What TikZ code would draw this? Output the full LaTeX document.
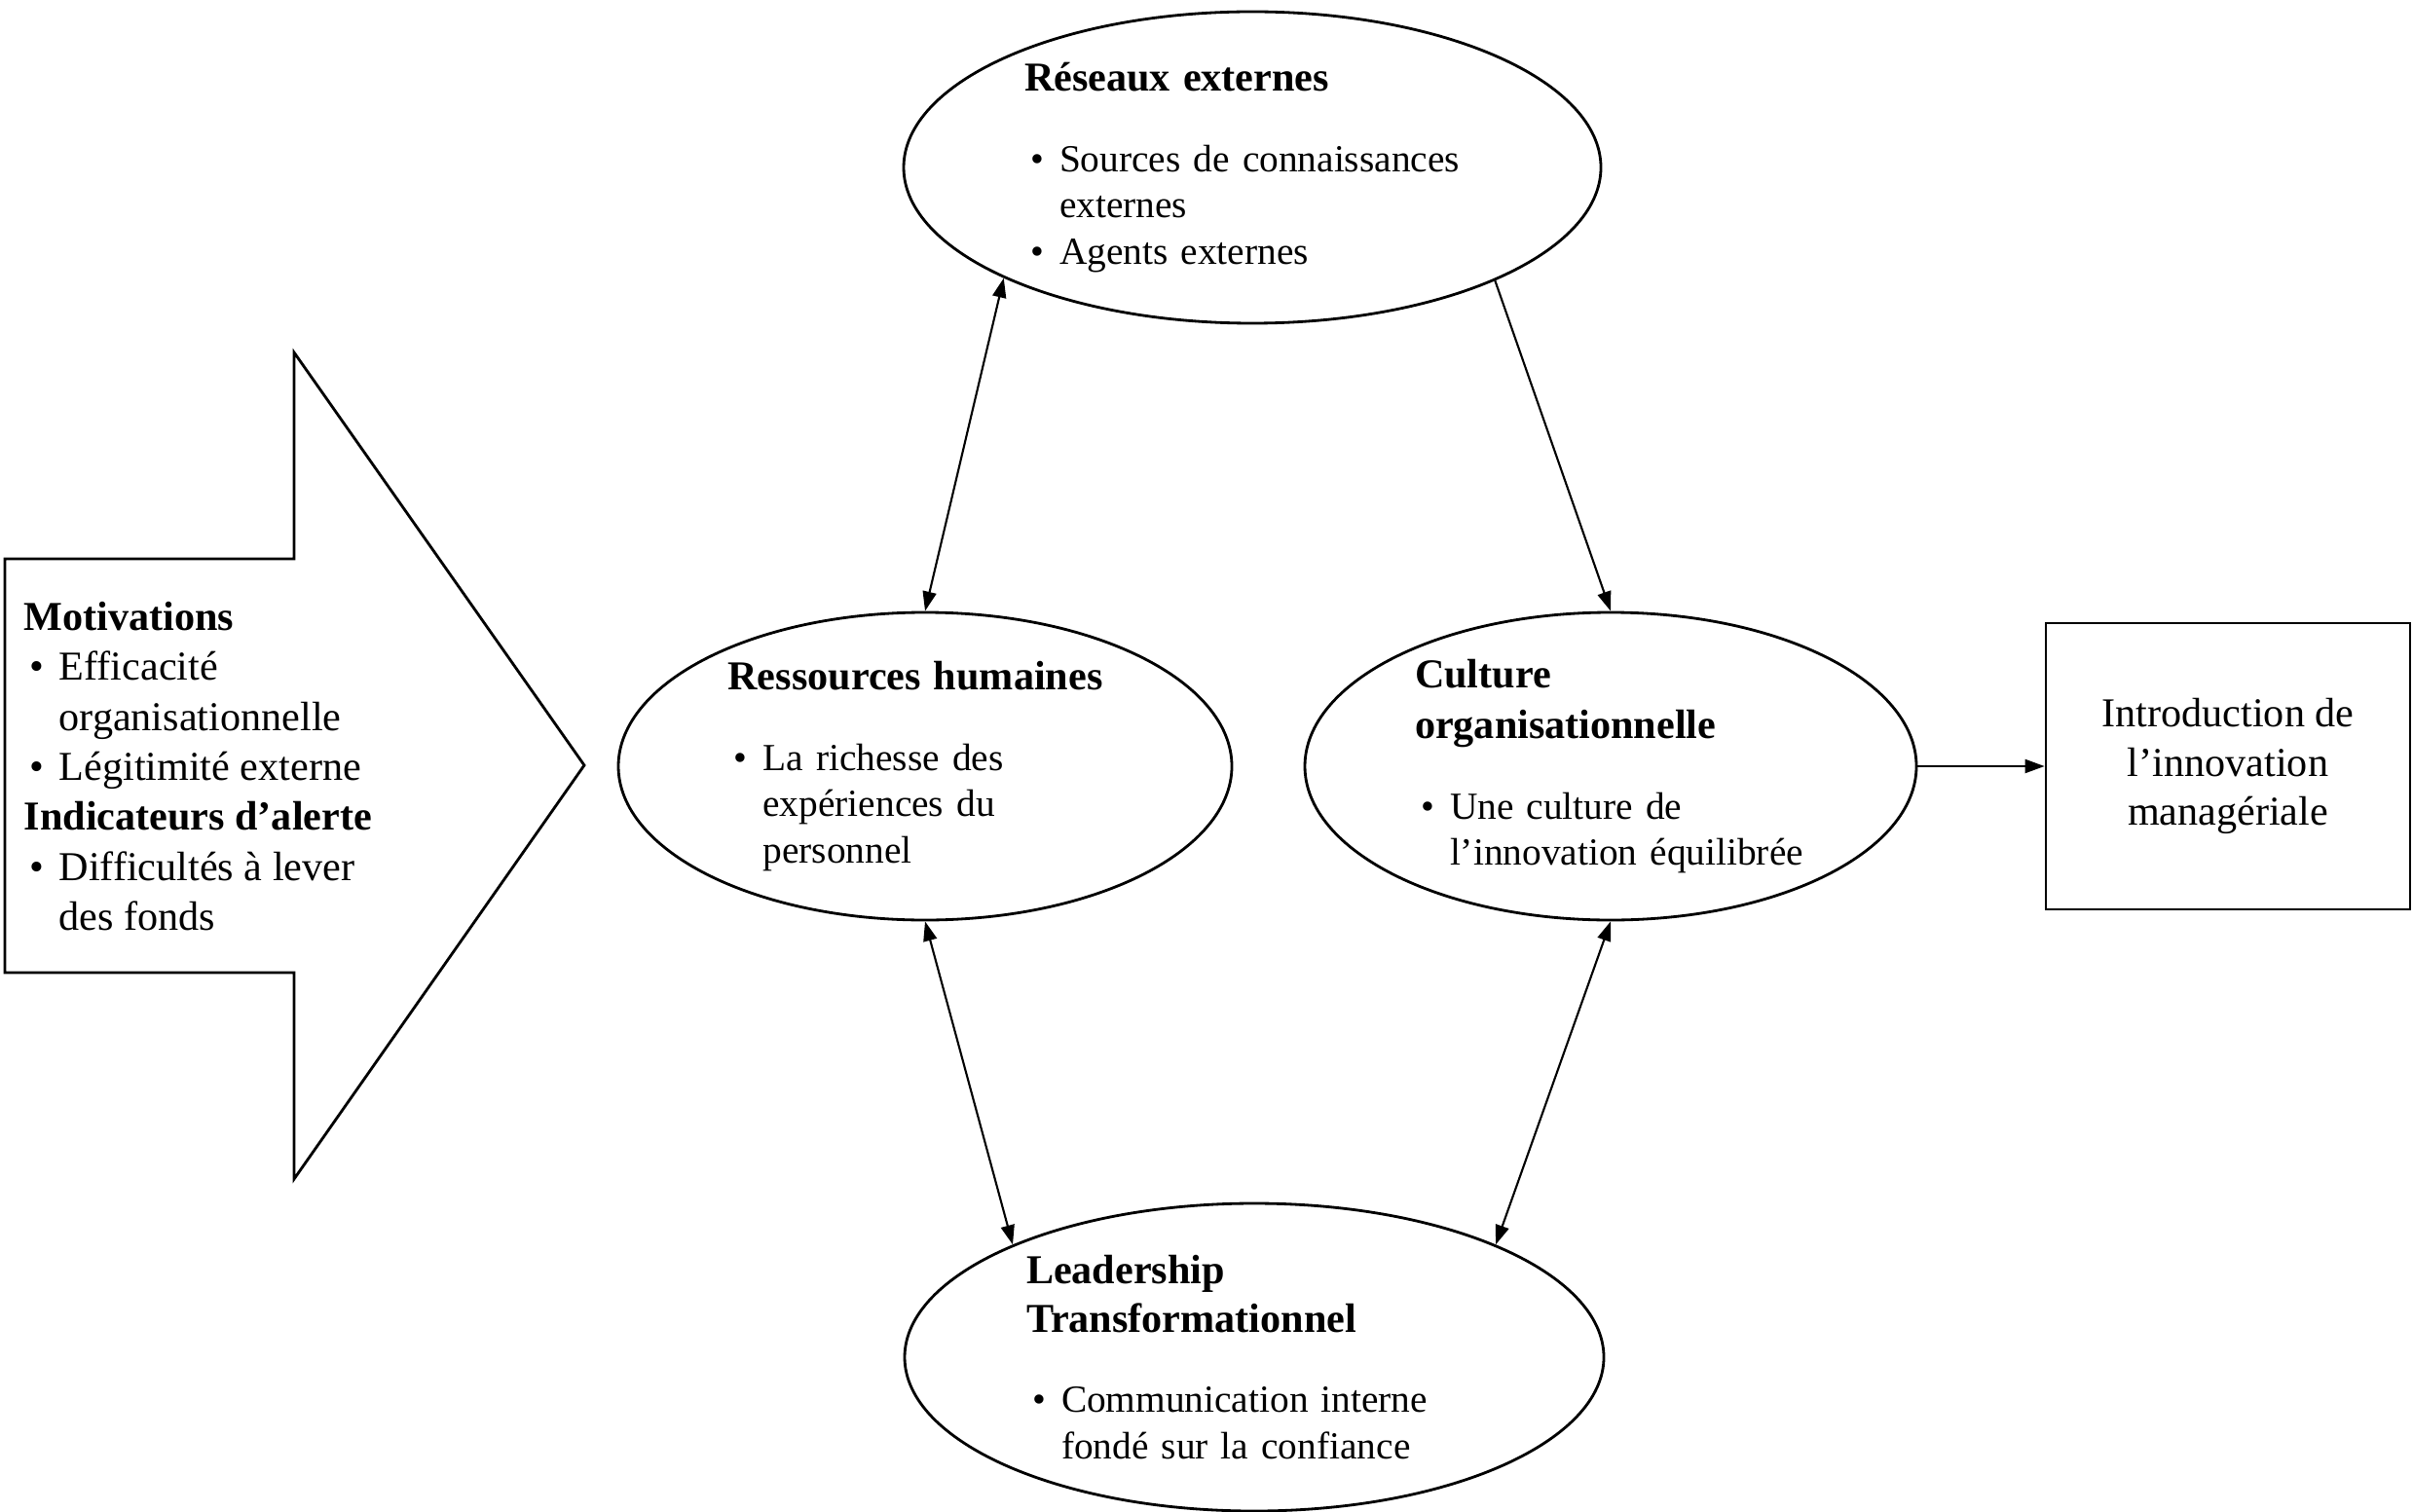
\documentclass[tikz,border=0pt]{standalone}
\usepackage{fontspec}
\setmainfont{Liberation Serif}
\usepackage{tikz}
\usetikzlibrary{arrows.meta,shapes.geometric}

\newcommand{\blt}[1]{\mbox{\makebox[0.36cm][l]{\hspace{0.06cm}\textbullet}#1}}
\newcommand{\cnt}[1]{\mbox{\hspace*{0.36cm}#1}}
\newcommand{\ttl}[1]{{\fontsize{12}{13.5}\selectfont\bfseries #1}}

\begin{document}
\begin{tikzpicture}[>={Triangle[length=2mm,width=1.4mm]},
  bub/.style={ellipse,draw,line width=0.8pt,inner sep=0pt,align=left,font=\fontsize{11.2}{13.5}\selectfont},
  con/.style={line width=0.6pt}]
  \useasboundingbox (0,0) rectangle (24.78,15.52);
  % big arrow on the left
  \draw[line width=0.8pt] (0.05,9.78) -- (3.02,9.78) -- (3.02,11.90) -- (6.00,7.66)
    -- (3.02,3.41) -- (3.02,5.53) -- (0.05,5.53) -- cycle;
  \node[anchor=west,inner sep=0pt,align=left,font=\fontsize{12}{14.6}\selectfont] (motiv) at (0.24,7.65)
    {\textbf{Motivations}\\\blt{Efficacité}\\\cnt{organisationnelle}\\\blt{Légitimité externe}\\
     \textbf{Indicateurs d’alerte}\\\blt{Difficultés à lever}\\\cnt{des fonds}};
  \node[bub,minimum width=7.16cm,minimum height=3.20cm,text width=4.68cm] (reseaux) at (12.86,13.80)
    {\ttl{Réseaux externes}\\[10pt]\blt{Sources de connaissances}\\\cnt{externes}\\\blt{Agents externes}};
  \node[bub,minimum width=6.30cm,minimum height=3.16cm,text width=4.05cm] (rh) at (9.50,7.65)
    {\ttl{Ressources humaines}\\[10pt]\blt{La richesse des}\\\cnt{expériences du}\\\cnt{personnel}};
  \node[bub,minimum width=6.28cm,minimum height=3.16cm,text width=4.02cm] (culture) at (16.54,7.65)
    {\ttl{Culture}\\[1.5pt]\ttl{organisationnelle}\\[10pt]\blt{Une culture de}\\\cnt{l’innovation équilibrée}};
  \node[bub,minimum width=7.18cm,minimum height=3.16cm,text width=4.68cm] (leader) at (12.88,1.58)
    {\ttl{Leadership}\\[0.5pt]\ttl{Transformationnel}\\[10pt]\blt{Communication interne}\\\cnt{fondé sur la confiance}};
  \node[draw,line width=0.8pt,minimum width=3.74cm,minimum height=2.94cm,align=center,
    font=\fontsize{12}{14.4}\selectfont] (intro) at (22.88,7.65) {Introduction de\\l’innovation\\managériale};
  \draw[con,<->] (rh.north) -- (reseaux.204);
  \draw[con,->] (reseaux.335) -- (culture.north);
  \draw[con,<->] (rh.south) -- (leader.155);
  \draw[con,<->] (culture.south) -- (leader.25);
  \draw[con,->] (culture.east) -- (intro.west);
\end{tikzpicture}
\end{document}
